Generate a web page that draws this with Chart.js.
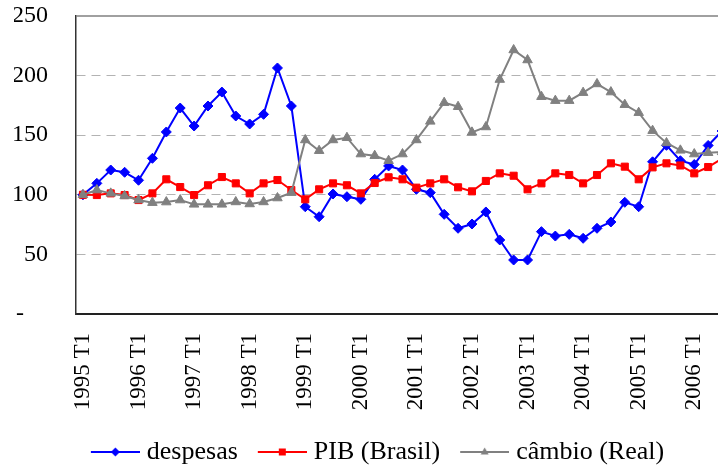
<!DOCTYPE html>
<html>
<head>
<meta charset="utf-8">
<script src="https://cdn.jsdelivr.net/npm/chart.js@4.4.1/dist/chart.umd.min.js"></script>
<style>
  html, body { margin: 0; padding: 0; background: #fff; overflow: hidden; }
  #wrap { width: 754px; height: 475px; }
</style>
</head>
<body>
<div id="wrap"><canvas id="myChart"></canvas></div>
<script>
const quarters = [
    '1995 T1', '1995 T2', '1995 T3', '1995 T4', '1996 T1', '1996 T2', '1996 T3', '1996 T4',
    '1997 T1', '1997 T2', '1997 T3', '1997 T4', '1998 T1', '1998 T2', '1998 T3', '1998 T4',
    '1999 T1', '1999 T2', '1999 T3', '1999 T4', '2000 T1', '2000 T2', '2000 T3', '2000 T4',
    '2001 T1', '2001 T2', '2001 T3', '2001 T4', '2002 T1', '2002 T2', '2002 T3', '2002 T4',
    '2003 T1', '2003 T2', '2003 T3', '2003 T4', '2004 T1', '2004 T2', '2004 T3', '2004 T4',
    '2005 T1', '2005 T2', '2005 T3', '2005 T4', '2006 T1', '2006 T2', '2006 T3'
];

const despesas = [
    100, 109.6, 120.8, 118.9, 112.2, 130.6, 152.7, 172.8, 157.7, 174.5, 186.2, 166.1,
    159.4, 167.5, 206.4, 174.5, 90.0, 81.6, 100.7, 98.4, 96.2, 113.0, 124.2, 120.8,
    104.6, 101.8, 83.6, 71.9, 75.5, 85.6, 62.1, 45.3, 45.3, 69.1, 65.4, 66.8,
    63.5, 71.9, 77.2, 93.7, 90.0, 127.7, 141.5, 128.6, 125.4, 141.4, 153.5
];

const pibBrasil = [
    100, 99.8, 101.2, 99.8, 95.6, 101.2, 113.0, 106.5, 99.8, 108.0, 114.9, 109.6,
    101.2, 109.6, 112.4, 104.0, 96.2, 104.6, 109.6, 108.0, 101.2, 109.9, 114.7, 113.0,
    106.0, 109.6, 113.0, 106.3, 102.9, 111.6, 118.0, 116.0, 104.6, 109.6, 118.0, 116.6,
    109.6, 116.6, 126.4, 123.6, 113.0, 123.0, 126.4, 124.6, 118.0, 123.3, 130.4
];

const cambioReal = [
    100, 104.0, 101.2, 99.0, 95.6, 93.4, 93.9, 95.6, 92.0, 92.0, 92.0, 94.0,
    92.3, 94.0, 97.3, 101.8, 146.0, 137.0, 146.0, 147.9, 134.2, 132.8, 128.6, 134.2,
    146.0, 161.6, 177.3, 173.9, 152.4, 156.9, 196.7, 221.5, 213.1, 182.3, 179.0, 179.0,
    185.7, 193.0, 186.2, 175.6, 168.9, 153.8, 143.5, 137.3, 134.2, 135.3, 136.0
];

const seriesNames = ['despesas', 'PIB (Brasil)', 'câmbio (Real)'];
const seriesColors = ['#0000ff', '#ff0000', '#808080'];
const seriesMarkers = ['rectRot', 'rect', 'triangle'];

const serif = 'Liberation Serif, Times New Roman, serif';
const legendSize = 26;

// little line + marker picture for each legend entry
function legendSwatch(color, style) {
    const start = 12 + legendSize / 2 - 7;
    const c = document.createElement('canvas');
    c.width = start + 49;
    c.height = 16;
    const g = c.getContext('2d');
    const cx = start + 24.5, cy = 8;
    g.strokeStyle = color;
    g.fillStyle = color;
    g.lineWidth = 2;
    g.beginPath();
    g.moveTo(start, cy);
    g.lineTo(start + 49, cy);
    g.stroke();
    g.beginPath();
    if (style === 'rectRot') {
        g.moveTo(cx - 4.5, cy); g.lineTo(cx, cy - 4.5); g.lineTo(cx + 4.5, cy); g.lineTo(cx, cy + 4.5);
    } else if (style === 'rect') {
        g.rect(cx - 3.5, cy - 3.5, 7, 7);
    } else {
        g.moveTo(cx, cy - 4.5); g.lineTo(cx + 4, cy + 2.5); g.lineTo(cx - 4, cy + 2.5);
    }
    g.closePath();
    g.fill();
    return c;
}

const swatches = seriesColors.map((col, i) => legendSwatch(col, seriesMarkers[i]));

const topFrame = {
    id: 'topFrame',
    afterDatasetsDraw(chart) {
        const { ctx, chartArea: a } = chart;
        ctx.save();
        ctx.strokeStyle = '#808080';
        ctx.lineWidth = 1.5;
        ctx.beginPath();
        ctx.moveTo(a.left, a.top);
        ctx.lineTo(a.right, a.top);
        ctx.stroke();
        ctx.restore();
    }
};

function makeSet(i, values, radius, order) {
    return {
        label: seriesNames[i],
        data: values,
        borderColor: seriesColors[i],
        backgroundColor: seriesColors[i],
        pointBackgroundColor: seriesColors[i],
        pointBorderColor: seriesColors[i],
        pointStyle: seriesMarkers[i],
        pointRadius: radius,
        pointBorderWidth: 1,
        borderWidth: 2,
        tension: 0,
        order: order
    };
}

const ctx = document.getElementById('myChart').getContext('2d');

new Chart(ctx, {
    type: 'line',
    data: {
        labels: quarters,
        datasets: [
            makeSet(0, despesas, 5, 3),
            makeSet(1, pibBrasil, 5, 2),
            makeSet(2, cambioReal, 5.5, 1)
        ]
    },
    options: {
        responsive: true,
        maintainAspectRatio: false,
        animation: false,
        layout: { padding: { left: 14, right: 25, top: 16, bottom: 0 } },
        plugins: {
            tooltip: { enabled: false },
            legend: {
                position: 'bottom',
                labels: {
                    usePointStyle: true,
                    pointStyleWidth: 55,
                    padding: 8,
                    color: '#000',
                    font: { family: serif, size: legendSize },
                    generateLabels: chart => chart.data.datasets.map((ds, i) => ({
                        text: ds.label,
                        pointStyle: swatches[i],
                        fillStyle: ds.borderColor,
                        strokeStyle: ds.borderColor,
                        lineWidth: 0,
                        hidden: false,
                        datasetIndex: i,
                        fontColor: '#000'
                    }))
                }
            }
        },
        scales: {
            x: {
                offset: true,
                grid: {
                    display: true,
                    drawOnChartArea: false,
                    drawTicks: true,
                    tickLength: 18,
                    color: 'rgba(0,0,0,0)',
                    tickColor: 'rgba(0,0,0,0)'
                },
                border: { display: true, color: '#222', width: 2 },
                ticks: {
                    autoSkip: false,
                    minRotation: 90,
                    maxRotation: 90,
                    padding: 1,
                    color: '#000',
                    font: { family: serif, size: 23 },
                    callback: function (v, i) {
                        return i % 4 === 0 ? this.getLabelForValue(v) : '';
                    }
                },
                afterFit: s => { s.height = 117; }
            },
            y: {
                min: 0,
                max: 250,
                ticks: {
                    stepSize: 50,
                    padding: 1,
                    color: '#000',
                    font: { family: serif, size: 24 },
                    callback: v => v === 0 ? '-\u00a0\u00a0\u00a0\u00a0' : v
                },
                grid: {
                    drawTicks: true,
                    tickLength: 27,
                    tickColor: 'rgba(0,0,0,0)',
                    lineWidth: 1,
                    color: c => (c.tick && (c.tick.value === 0 || c.tick.value === 250)) ? 'rgba(0,0,0,0)' : '#b3b3b3'
                },
                border: { color: '#333', width: 1.5, dash: [9, 6] },
                afterFit: s => { s.width = 62; }
            }
        }
    },
    plugins: [topFrame]
});
</script>
</body>
</html>
